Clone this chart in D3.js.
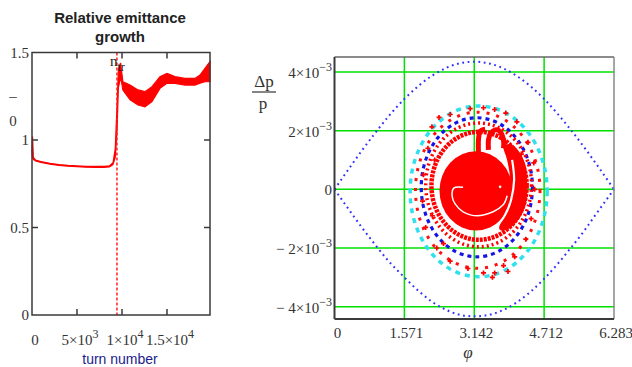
<!DOCTYPE html>
<html>
<head>
<meta charset="utf-8">
<script src="https://cdn.jsdelivr.net/npm/d3@7"></script>
<style>
  body { margin: 0; background: #fff; }
  svg { display: block; }
  .serif { font-family: "Liberation Serif", "DejaVu Serif", serif; fill: #333; }
</style>
</head>
<body>
<script>
// ---- left chart: relative emittance growth vs turn number ----
const turns = [0, 60, 150, 400, 1000, 2000, 3000, 4000, 5000, 6000, 7000, 8000, 8600, 9000, 9250, 9450,
  9600, 9850, 10100, 10900, 11780, 12550, 13330, 14220, 15000, 15890, 17000, 18110, 18670, 19220, 19780];
const growthLo = [0.93, 0.90, 0.89, 0.88, 0.872, 0.862, 0.855, 0.85, 0.847, 0.845, 0.844, 0.844, 0.846, 0.86, 0.90, 1.05,
  1.30, 1.36, 1.286, 1.229, 1.20, 1.19, 1.219, 1.295, 1.324, 1.324, 1.314, 1.314, 1.324, 1.333, 1.333];
const growthHi = [0.93, 1.02, 0.90, 0.885, 0.877, 0.867, 0.86, 0.855, 0.852, 0.85, 0.849, 0.849, 0.852, 0.87, 0.95, 1.20,
  1.40, 1.44, 1.333, 1.314, 1.286, 1.276, 1.305, 1.362, 1.381, 1.362, 1.352, 1.352, 1.371, 1.41, 1.448];
const nTransition = 9440;
const leftYTicks = [0, 0.5, 1, 1.5];
const leftYLabels = ["0", "0.5", "1", "1.5"];
const leftXTicks = [0, 5000, 10000, 15000];
const leftXLabels = [["0", ""], ["5\u00d710", "3"], ["1\u00d710", "4"], ["1.5\u00d710", "4"]];

// ---- right chart: longitudinal phase space ----
const phiTicks = [0, 1.571, 3.142, 4.712, 6.283];
const phiLabels = ["0", "1.571", "3.142", "4.712", "6.283"];
const dpTicks = [4, 2, 0, -2, -4];          // units of 1e-3
const dpLabels = [["4\u00d710", "\u22123"], ["2\u00d710", "\u22123"], ["0", ""], ["\u2212 2\u00d710", "\u22123"], ["\u2212 4\u00d710", "\u22123"]];

// separatrix (blue dots)
const sepPhi = [0, 0.3, 0.6, 0.9, 1.2, 1.571, 1.9, 2.2, 2.5, 2.8, 3.142, 3.5, 3.8, 4.1, 4.4, 4.712, 5.0, 5.3, 5.6, 5.9, 6.283];
const sepUpper = [0, 0.65, 1.29, 1.89, 2.46, 3.08, 3.54, 3.88, 4.13, 4.29, 4.35, 4.28, 4.12, 3.86, 3.52, 3.08, 2.60, 2.05, 1.46, 0.83, 0];
const sepLower = [0, -0.64, -1.27, -1.86, -2.42, -3.0, -3.48, -3.84, -4.10, -4.27, -4.33, -4.27, -4.11, -3.85, -3.50, -3.05, -2.57, -2.02, -1.44, -0.80, 0];

// rings: centre phi, centre dp, half-width phi, half-height dp
const ringNames = ["cyan", "redOuter", "blue", "redBand1", "redBand2"];
const ringPhi0 = [3.24, 3.22, 3.20, 3.24, 3.25];
const ringDp0 = [-0.07, -0.03, 0.07, 0.15, 0.12];
const ringA = [1.54, 1.40, 1.25, 1.19, 1.07];
const ringB = [2.91, 2.66, 2.37, 2.11, 1.84];

// core of the bunch
const coreCentre = [3.18, -0.05];
const coreSize = [0.82, 1.35];
const crescent = [[3.798, 1.457], [3.986, 1.515], [4.173, 1.232], [4.30, 0.776], [4.33, 0.095], [4.30, -0.50], [4.135, -1.038],
  [3.874, -1.379], [3.70, -1.30], [3.90, -0.60], [3.95, 0.30], [3.88, 1.0]];
const strandA = [[3.236, 1.23], [3.236, 1.685], [3.273, 1.969], [3.386, 2.048]];
const strandB = [[3.461, 1.345], [3.461, 1.685], [3.514, 1.913], [3.611, 2.026], [3.723, 1.969], [3.798, 1.685], [3.80, 1.40]];
const whiteSpiral = [[2.891, 0.068], [2.688, 0.051], [2.643, -0.221], [2.711, -0.494], [2.891, -0.766], [3.206, -0.902],
  [3.566, -0.766], [3.791, -0.528], [3.881, -0.221]];
const whiteGap = [[3.993, 1.004], [4.038, 0.323], [3.971, -0.357], [3.836, -0.868], [3.656, -1.243]];
const whiteDot = [3.723, 0.085];
const scatter = [[2.19, 2.13], [2.35, 2.45], [2.6, 2.55], [3.05, 2.75], [3.35, 2.78], [3.6, 2.72], [3.85, 2.6], [4.1, 2.3],
  [4.35, 1.6], [4.48, 0.9], [4.5, 0.0], [4.42, -1.0], [4.3, -1.7], [4.05, -2.3], [3.8, -2.6], [3.55, -3.0], [3.35, -2.85],
  [3.0, -2.7], [2.6, -2.45], [2.3, -2.0], [2.05, -1.3], [1.98, -0.4], [2.0, 0.5], [2.1, 1.4], [3.9, -2.8], [3.6, -2.85],
  [2.25, 1.0], [2.2, -0.9], [2.45, -1.85], [4.25, -0.3], [4.2, 1.2]];

const svg = d3.select("body").append("svg").attr("width", 632).attr("height", 367);

function supText(g, x, y, base, sup, anchor, size) {
  const t = g.append("text").attr("class", "serif").attr("x", x).attr("y", y)
    .attr("text-anchor", anchor).style("font-size", size + "px");
  t.append("tspan").text(base);
  if (sup) t.append("tspan").attr("dy", -7).style("font-size", (size - 3) + "px").text(sup);
  return t;
}

// ================= left chart =================
const xL = d3.scaleLinear().domain([0, 19780]).range([32, 210]);
const yL = d3.scaleLinear().domain([0, 1.5]).range([315, 52.5]);
const gl = svg.append("g");

gl.append("text").attr("x", 120).attr("y", 23).attr("text-anchor", "middle")
  .style("font", "bold 15px 'Liberation Sans', Arial, sans-serif").style("fill", "#222").text("Relative emittance");
gl.append("text").attr("x", 120).attr("y", 42).attr("text-anchor", "middle")
  .style("font", "bold 15px 'Liberation Sans', Arial, sans-serif").style("fill", "#222").text("growth");

const area = d3.area()
  .x((d, i) => xL(turns[i]))
  .y0((d, i) => yL(growthLo[i]))
  .y1((d, i) => yL(growthHi[i]));
gl.append("path").datum(turns).attr("d", area)
  .attr("fill", "#ff0000").attr("stroke", "#ff0000").attr("stroke-width", 1.2);

gl.append("line").attr("x1", xL(nTransition)).attr("x2", xL(nTransition))
  .attr("y1", yL(1.5)).attr("y2", yL(0))
  .attr("stroke", "#ff2020").attr("stroke-width", 1.5).attr("stroke-dasharray", "3 2");

// frame and ticks
gl.append("rect").attr("x", xL(0)).attr("y", yL(1.5)).attr("width", xL(19780) - xL(0)).attr("height", yL(0) - yL(1.5))
  .attr("fill", "none").attr("stroke", "#3a3a3a").attr("stroke-width", 1.5);
leftYTicks.slice(1, 3).forEach(v => {
  gl.append("line").attr("x1", xL(0)).attr("x2", xL(0) + 6).attr("y1", yL(v)).attr("y2", yL(v)).attr("stroke", "#3a3a3a").attr("stroke-width", 1.5);
  gl.append("line").attr("x1", xL(19780)).attr("x2", xL(19780) - 6).attr("y1", yL(v)).attr("y2", yL(v)).attr("stroke", "#3a3a3a").attr("stroke-width", 1.5);
});
leftXTicks.slice(1).forEach(v => {
  gl.append("line").attr("x1", xL(v)).attr("x2", xL(v)).attr("y1", yL(0)).attr("y2", yL(0) - 6).attr("stroke", "#3a3a3a").attr("stroke-width", 1.5);
  gl.append("line").attr("x1", xL(v)).attr("x2", xL(v)).attr("y1", yL(1.5)).attr("y2", yL(1.5) + 6).attr("stroke", "#3a3a3a").attr("stroke-width", 1.5);
});
leftYTicks.forEach((v, i) => {
  gl.append("text").attr("class", "serif").attr("x", 29).attr("y", yL(v) + 5)
    .attr("text-anchor", "end").style("font-size", "15px").text(leftYLabels[i]);
});
leftXTicks.forEach((v, i) => {
  supText(gl, xL(v) + 3, 345, leftXLabels[i][0], leftXLabels[i][1], "middle", 15);
});
// y label (partially visible)
gl.append("text").attr("class", "serif").attr("x", 13).attr("y", 101).attr("text-anchor", "middle").style("font-size", "15px").text("\u2013");
gl.append("text").attr("class", "serif").attr("x", 13).attr("y", 126).attr("text-anchor", "middle").style("font-size", "15px").text("0");

// n_tr marker label, on top
const ntr = gl.append("text").attr("class", "serif").attr("x", xL(nTransition) - 7).attr("y", 66).style("font-size", "15px").style("fill", "#222");
ntr.append("tspan").text("n");
ntr.append("tspan").attr("dy", 5).style("font-size", "12px").text("tr");

gl.append("text").attr("x", 120).attr("y", 364).attr("text-anchor", "middle")
  .style("font", "14px 'Liberation Sans', Arial, sans-serif").style("fill", "#1c1c8c").text("turn number");

// ================= right chart =================
const xR = d3.scaleLinear().domain([0, 6.283]).range([334.5, 614]);
const yR = d3.scaleLinear().domain([-4.42, 4.51]).range([319, 57]);
const gr = svg.append("g");

// grid
phiTicks.slice(1, 4).forEach(v => {
  gr.append("line").attr("x1", xR(v)).attr("x2", xR(v)).attr("y1", yR(4.51)).attr("y2", yR(-4.42))
    .attr("stroke", "#00e000").attr("stroke-width", 1.5);
});
dpTicks.forEach(v => {
  gr.append("line").attr("x1", xR(0)).attr("x2", xR(6.283)).attr("y1", yR(v)).attr("y2", yR(v))
    .attr("stroke", "#00e000").attr("stroke-width", 1.5);
});

// separatrix
const sepLine = d3.line().curve(d3.curveMonotoneX).x((d, i) => xR(sepPhi[i])).y(d => yR(d));
[sepUpper, sepLower].forEach(arr => {
  gr.append("path").datum(arr).attr("d", sepLine).attr("fill", "none")
    .attr("stroke", "#3030ff").attr("stroke-width", 2).attr("stroke-dasharray", "1.8 3.6");
});

// rings
const ringStyle = {
  cyan: ["#30e0ee", 3.5, "5 5"],
  redOuter: ["#ff1010", 3, "3 7"],
  redBand1: ["#ff0000", 3.5, "2 3"],
  blue: ["#1414e6", 3.2, "4 4"],
  redBand2: ["#ff0000", 4.5, "3 1"]
};
ringNames.forEach((name, i) => {
  const st = ringStyle[name];
  gr.append("ellipse")
    .attr("cx", xR(ringPhi0[i])).attr("cy", yR(ringDp0[i]))
    .attr("rx", xR(ringPhi0[i] + ringA[i]) - xR(ringPhi0[i]))
    .attr("ry", yR(ringDp0[i]) - yR(ringDp0[i] + ringB[i]))
    .attr("fill", "none").attr("stroke", st[0]).attr("stroke-width", st[1])
    .attr("stroke-dasharray", st[2]);
});

// scatter crosses
gr.selectAll(".pt").data(scatter).enter().append("path")
  .attr("transform", d => "translate(" + xR(d[0]) + "," + yR(d[1]) + ")")
  .attr("d", d3.symbol().type(d3.symbolCross).size(14))
  .attr("fill", "#ff0000");

// core
gr.append("ellipse").attr("cx", xR(coreCentre[0])).attr("cy", yR(coreCentre[1]))
  .attr("rx", xR(coreCentre[0] + coreSize[0]) - xR(coreCentre[0]))
  .attr("ry", yR(coreCentre[1]) - yR(coreCentre[1] + coreSize[1]))
  .attr("fill", "#ff0000");
gr.append("path").datum(crescent).attr("d", d3.line().curve(d3.curveCardinalClosed).x(d => xR(d[0])).y(d => yR(d[1])))
  .attr("fill", "#ff0000");
const pLine = d3.line().curve(d3.curveCardinal).x(d => xR(d[0])).y(d => yR(d[1]));
[strandA, strandB].forEach(f => {
  gr.append("path").datum(f).attr("d", pLine).attr("fill", "none")
    .attr("stroke", "#ff0000").attr("stroke-width", 5).attr("stroke-linejoin", "round");
});
gr.append("path").datum(whiteSpiral).attr("d", pLine).attr("fill", "none")
  .attr("stroke", "#fff").attr("stroke-width", 1.5);
gr.append("path").datum(whiteGap).attr("d", pLine).attr("fill", "none")
  .attr("stroke", "#fff").attr("stroke-width", 2.2);
gr.append("circle").attr("cx", xR(whiteDot[0])).attr("cy", yR(whiteDot[1])).attr("r", 1.3).attr("fill", "#fff");

// frame
gr.append("line").attr("x1", xR(0)).attr("x2", xR(6.283)).attr("y1", yR(4.51)).attr("y2", yR(4.51)).attr("stroke", "#666").attr("stroke-width", 1.5);
gr.append("line").attr("x1", xR(6.283)).attr("x2", xR(6.283)).attr("y1", yR(4.51)).attr("y2", yR(-4.42)).attr("stroke", "#888").attr("stroke-width", 1.5);
gr.append("line").attr("x1", xR(0)).attr("x2", xR(0)).attr("y1", yR(4.51)).attr("y2", yR(-4.42)).attr("stroke", "#3a3a3a").attr("stroke-width", 2);
gr.append("line").attr("x1", xR(0)).attr("x2", xR(6.283)).attr("y1", yR(-4.42)).attr("y2", yR(-4.42)).attr("stroke", "#3a3a3a").attr("stroke-width", 2);

// tick labels
phiTicks.forEach((v, i) => {
  gr.append("text").attr("class", "serif").attr("x", xR(v) + (i === 0 ? 3 : 2)).attr("y", 338)
    .attr("text-anchor", "middle").style("font-size", "15px").text(phiLabels[i]);
});
dpTicks.forEach((v, i) => {
  const t = gr.append("text").attr("class", "serif").attr("x", 332).attr("y", yR(v) + 6)
    .attr("text-anchor", "end").style("font-size", "15px");
  t.append("tspan").text(dpLabels[i][0]);
  if (dpLabels[i][1]) t.append("tspan").attr("dy", -7).style("font-size", "12px").text(dpLabels[i][1]);
});

// axis titles
gr.append("text").attr("class", "serif").attr("x", 264).attr("y", 87).attr("text-anchor", "middle").style("font-size", "17px").text("\u0394p");
gr.append("line").attr("x1", 252).attr("x2", 276).attr("y1", 92).attr("y2", 92).attr("stroke", "#333").attr("stroke-width", 1.2);
gr.append("text").attr("class", "serif").attr("x", 263).attr("y", 109).attr("text-anchor", "middle").style("font-size", "17px").text("p");
gr.append("text").attr("class", "serif").attr("x", 468).attr("y", 358).attr("text-anchor", "middle").style("font-size", "17px").style("font-style", "italic").text("\u03c6");
</script>
</body>
</html>
